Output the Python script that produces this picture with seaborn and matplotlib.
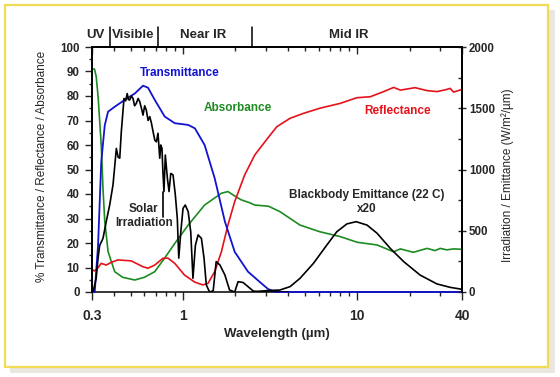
"""
Spectral properties chart: transmittance, reflectance and absorbance
of a coating, with solar irradiation and blackbody emittance.
"""

import numpy as np
import matplotlib
matplotlib.use("Agg")
import matplotlib.pyplot as plt
import matplotlib.transforms as mtransforms
import seaborn as sns
from matplotlib.patches import Rectangle
from matplotlib.ticker import FixedLocator, LogLocator, MultipleLocator, NullFormatter


# ---- data (wavelength in um) ----

trans_wl = [0.30, 0.311, 0.325, 0.339, 0.355, 0.371, 0.405, 0.462, 0.528,
            0.589, 0.629, 0.688, 0.785, 0.896, 1.07, 1.17, 1.33, 1.52,
            1.74, 1.98, 2.36, 2.82, 3.08, 3.4, 10.0, 40.0]
trans_pct = [0, 0, 19, 53, 68, 73.6, 75.6, 78.4, 81,
             84.2, 83.4, 78.4, 71.6, 68.9, 68.2, 66.8, 60, 46.4,
             28.7, 16.4, 8.3, 3.5, 1.2, 0, 0, 0]

refl_wl = [0.30, 0.31, 0.325, 0.339, 0.362, 0.387, 0.423, 0.504, 0.589,
           0.629, 0.688, 0.768, 0.82, 0.896, 1.02, 1.17, 1.30, 1.39,
           1.52, 1.66, 1.81, 1.98, 2.26, 2.58, 3.08, 3.46, 4.12, 4.91,
           6.1, 8.0, 9.96, 11.9, 14.2, 16.2, 17.7, 21.5, 25.2, 28.7,
           32.0, 34.2, 35.8, 40.0]
refl_pct = [9.2, 8.6, 9.9, 11.7, 11.0, 12.1, 13.1, 12.7, 10.3,
            9.7, 11.0, 13.8, 13.8, 11.7, 6.9, 4.0, 2.9, 3.5,
            8.3, 16.4, 27.3, 36.9, 47.8, 55.9, 63.0, 67.5, 70.9, 72.9,
            75.0, 77.0, 79.3, 79.7, 81.8, 83.5, 82.4, 83.4, 82.2, 81.8,
            82.5, 83.1, 81.6, 82.7]

absorb_wl = [0.30, 0.31, 0.317, 0.325, 0.339, 0.347, 0.355, 0.371, 0.405,
             0.45, 0.528, 0.60, 0.688, 0.785, 0.90, 1.07, 1.33, 1.66,
             1.81, 2.0, 2.16, 2.4, 2.58, 3.1, 3.6, 4.7, 6.1, 8.0, 10.0,
             13.0, 16.2, 17.7, 21.0, 23.0, 25.2, 28.0, 30.0, 32.7, 36.0, 40.0]
absorb_pct = [91, 91, 88, 80, 60, 42, 29, 16.5, 8.3,
              6.0, 4.9, 6.0, 8.3, 13.9, 20.0, 27.3, 35.5, 40.3,
              41.0, 39.0, 37.6, 36.5, 35.5, 35.0, 32.8, 27.3, 24.6, 22.6, 20.3,
              19.2, 16.4, 17.6, 16.2, 17.0, 17.8, 16.9, 17.8, 17.2, 17.6, 17.4]

# solar irradiation, W/m2/um (right axis)
solar_wl = [0.30, 0.304, 0.317, 0.325, 0.332, 0.347, 0.362, 0.379, 0.396,
            0.414, 0.424, 0.433, 0.442, 0.458, 0.468, 0.478, 0.486, 0.494,
            0.505, 0.516, 0.527, 0.539, 0.552, 0.564, 0.577, 0.589, 0.602,
            0.615, 0.630, 0.644, 0.658, 0.673, 0.688, 0.703, 0.718, 0.735,
            0.745, 0.757, 0.765, 0.777, 0.791, 0.813, 0.831, 0.85, 0.876,
            0.903, 0.927, 0.945, 0.971, 1.0, 1.03, 1.07, 1.107, 1.14,
            1.177, 1.22, 1.275, 1.32, 1.36, 1.42, 1.49, 1.55, 1.63, 1.74,
            1.85, 1.98, 2.07, 2.21, 2.36, 2.53, 2.70, 4.0]
solar_irr = [0, 0, 112, 276, 380, 438, 574, 710, 874,
             1172, 1100, 1092, 1308, 1580, 1560, 1620, 1570, 1568,
             1600, 1580, 1520, 1540, 1580, 1554, 1500, 1444, 1520,
             1486, 1400, 1432, 1380, 1308, 1240, 1226, 1296, 1092,
             1200, 1172, 1000, 820, 1118, 928, 820, 968, 956,
             792, 600, 276, 492, 684, 710, 656, 492, 112,
             380, 466, 438, 276, 58, 0, 10, 248, 220, 138,
             16, 0, 84, 78, 44, 8, 0, 0]

# blackbody emittance at 22 C, x20, W/m2/um (right axis)
bb_wl = [2.5, 3.08, 3.6, 4.12, 4.7, 5.61, 6.7, 7.64, 8.73, 9.87,
         11.4, 13.0, 15.5, 18.5, 23.0, 28.7, 34.2, 40.0]
bb_emit = [2, 12, 16, 44, 112, 234, 384, 492, 556, 574,
           546, 480, 356, 248, 138, 66, 38, 22]

band_names = ["UV", "Visible", "Near IR", "Mid IR"]
band_centers = [0.314, 0.516, 1.31, 9.0]
band_edges = [0.38, 0.72, 2.5]

x_ticks = [0.3, 1, 10, 40]
x_tick_labels = ["0.3", "1", "10", "40"]

solar_pointer = (0.765, 30.5, 41.0)   # wavelength, label end %, curve %

BLUE = "#1212d2"
GREEN = "#1d8a22"
RED = "#e5121b"


sns.set_style("ticks")
plt.rcParams["font.family"] = ["Liberation Sans", "DejaVu Sans"]

fig = plt.figure(figsize=(5.6, 3.77), dpi=100)
fig.patch.set_facecolor("white")

# frame with shadow
fig.add_artist(Rectangle((10 / 560, 1 - 373 / 377), 545 / 560, 363 / 377,
                         transform=fig.transFigure, facecolor="#e9e7df",
                         edgecolor="none", zorder=-3))
fig.add_artist(Rectangle((4.5 / 560, 1 - 366.5 / 377), 543.5 / 560, 362 / 377,
                         transform=fig.transFigure, facecolor="white",
                         edgecolor="#f2db57", linewidth=1.6, zorder=-2))

ax = fig.add_axes([92 / 560, 1 - 292 / 377, 370 / 560, 245 / 377])
ax.patch.set_alpha(0)
ax2 = ax.twinx()

sns.lineplot(x=absorb_wl, y=absorb_pct, ax=ax, color=GREEN, lw=1.2,
             estimator=None)
sns.lineplot(x=refl_wl, y=refl_pct, ax=ax, color=RED, lw=1.2,
             estimator=None)
sns.lineplot(x=trans_wl, y=trans_pct, ax=ax, color=BLUE, lw=1.3,
             estimator=None, clip_on=False, zorder=3)

sns.lineplot(x=solar_wl, y=solar_irr, ax=ax2, color="black", lw=1.2,
             estimator=None)
sns.lineplot(x=bb_wl, y=bb_emit, ax=ax2, color="black", lw=1.2,
             estimator=None)

ax.set_xscale("log")
ax.set_xlim(0.3, 40)
ax.set_ylim(0, 100)
ax2.set_ylim(0, 2000)

ax.xaxis.set_major_locator(FixedLocator(x_ticks))
ax.set_xticklabels(x_tick_labels)
ax.xaxis.set_minor_locator(LogLocator(base=10, subs=np.arange(2, 10)))
ax.xaxis.set_minor_formatter(NullFormatter())
ax.yaxis.set_major_locator(MultipleLocator(10))
ax.yaxis.set_minor_locator(MultipleLocator(5))
ax2.yaxis.set_major_locator(MultipleLocator(500))
ax2.yaxis.set_minor_locator(MultipleLocator(250))

ax.tick_params(axis="x", which="major", direction="out", length=6,
               width=1, pad=6, labelsize=10)
ax.tick_params(axis="x", which="minor", direction="out", length=3, width=1)
ax.tick_params(axis="y", which="major", direction="out", length=5,
               width=1, pad=4, labelsize=8.3)
ax.tick_params(axis="y", which="minor", direction="out", length=2.5, width=1)
ax2.tick_params(axis="y", which="major", direction="inout", length=6,
                width=1, pad=2, labelsize=8.3)
ax2.tick_params(axis="y", which="minor", direction="in", length=3, width=1)

for label in ax.get_xticklabels() + ax.get_yticklabels() + ax2.get_yticklabels():
    label.set_fontweight("bold")

# top axis: inward ticks, no labels
ax_top = ax.twiny()
ax_top.set_xscale("log")
ax_top.set_xlim(0.3, 40)
ax_top.xaxis.set_major_locator(FixedLocator(x_ticks))
ax_top.xaxis.set_minor_locator(LogLocator(base=10, subs=np.arange(2, 10)))
ax_top.xaxis.set_major_formatter(NullFormatter())
ax_top.xaxis.set_minor_formatter(NullFormatter())
ax_top.tick_params(axis="x", which="major", direction="in", length=5, width=1)
ax_top.tick_params(axis="x", which="minor", direction="in", length=3, width=1)

for a in (ax, ax2, ax_top):
    for spine in a.spines.values():
        spine.set_linewidth(1.1)
        spine.set_color("black")
ax2.spines["bottom"].set_visible(False)
ax_top.spines["bottom"].set_visible(False)

ax.set_xlabel("")
ax.set_ylabel("")
ax2.set_ylabel("")

# band headers above the plot
band_tf = mtransforms.blended_transform_factory(ax.transData, ax.transAxes)
for name, center in zip(band_names, band_centers):
    ax.text(center, 1.049, name, transform=band_tf, ha="center", va="center",
            fontsize=9.5, fontweight="bold", clip_on=False)
for edge in band_edges:
    ax.plot([edge, edge], [1.0, 1.082], transform=band_tf, color="black",
            lw=1.1, clip_on=False)

# curve labels
ax.text(0.238, 0.895, "Transmittance", transform=ax.transAxes, color=BLUE,
        ha="center", va="center", fontsize=8.5, fontweight="bold")
ax.text(0.395, 0.75, "Absorbance", transform=ax.transAxes, color=GREEN,
        ha="center", va="center", fontsize=8.5, fontweight="bold")
ax.text(0.826, 0.74, "Reflectance", transform=ax.transAxes, color=RED,
        ha="center", va="center", fontsize=8.5, fontweight="bold")
ax2.text(0.14, 0.31, "Solar\nIrradiation", transform=ax.transAxes,
         ha="center", va="center", fontsize=8.5, fontweight="bold",
         linespacing=1.15)
ax2.text(0.742, 0.367, "Blackbody Emittance (22 C)\nx20", transform=ax.transAxes,
         ha="center", va="center", fontsize=8.5, fontweight="bold",
         linespacing=1.15)
ax.plot([solar_pointer[0]] * 2, solar_pointer[1:], color="black", lw=1.2)

# axis titles
fig.text(277 / 560, 1 - 334 / 377, "Wavelength (\u00b5m)", ha="center",
         va="center", fontsize=9.5, fontweight="bold")
fig.text(42 / 560, 1 - 166 / 377, "% Transmittance / Reflectance / Absorbance",
         ha="center", va="center", rotation=90, fontsize=8.5)
fig.text(508 / 560, 1 - 175 / 377, "Irradiation / Emittance (W/m\u00b2/\u00b5m)",
         ha="center", va="center", rotation=90, fontsize=8.5)

fig.savefig("out.png", dpi=100)
